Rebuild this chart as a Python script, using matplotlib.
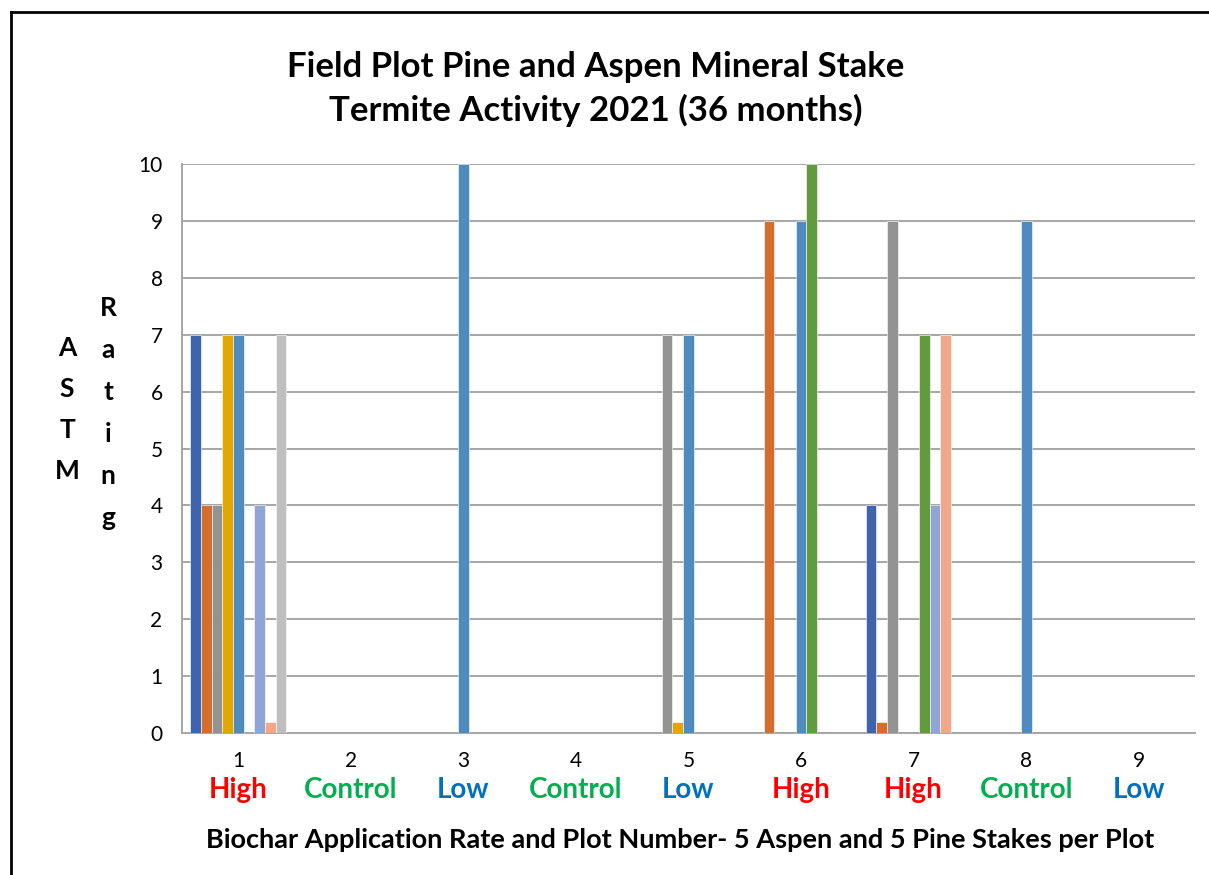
import matplotlib.pyplot as plt
from matplotlib.lines import Line2D
import numpy as np

plt.rcParams['font.family'] = ['Lato', 'DejaVu Sans']

plots = ['1', '2', '3', '4', '5', '6', '7', '8', '9']
rates = ['High', 'Control', 'Low', 'Control', 'Low', 'High', 'High', 'Control', 'Low']
rate_colors = {'High': '#FF0000', 'Control': '#00B050', 'Low': '#0070C0'}

# ASTM rating of each stake, one list per stake (plots 1..9)
stake1 = [7, 0, 0, 0, 0, 0, 4, 0, 0]
stake2 = [4, 0, 0, 0, 0, 9, 0.2, 0, 0]
stake3 = [4, 0, 0, 0, 7, 0, 9, 0, 0]
stake4 = [7, 0, 0, 0, 0.2, 0, 0, 0, 0]
stake5 = [7, 0, 10, 0, 7, 9, 0, 9, 0]
stake6 = [0, 0, 0, 0, 0, 10, 7, 0, 0]
stake7 = [4, 0, 0, 0, 0, 0, 4, 0, 0]
stake8 = [0.2, 0, 0, 0, 0, 0, 7, 0, 0]
stake9 = [7, 0, 0, 0, 0, 0, 0, 0, 0]
stakes = [stake1, stake2, stake3, stake4, stake5, stake6, stake7, stake8, stake9]

colors = ['#3E64AE', '#D46E2C', '#939393', '#E3A700', '#508BBF',
          '#629B3F', '#8FA5D6', '#F1A88A', '#BFBFBF']

W, H = 1209, 875
fig = plt.figure(figsize=(W / 100, H / 100), dpi=100)
ax = fig.add_axes([182 / W, 1 - 733 / H, (1195 - 182) / W, (733 - 164) / H])

x = np.arange(len(plots))
n = len(stakes)
width = 1 / (n + 1.55)
for i, vals in enumerate(stakes):
    offset = (i - (n - 1) / 2) * width
    ax.bar(x + offset, vals, width, color=colors[i], edgecolor='white',
           linewidth=0.4, zorder=3)

ax.set_xlim(-0.5, len(plots) - 0.5)
ax.set_ylim(0, 10)
ax.set_yticks(range(0, 11))
ax.yaxis.grid(True, color='#A6A6A6', linewidth=1.4, zorder=0)
ax.set_xticks(x, plots)
ax.tick_params(axis='both', length=0, labelsize=15, colors='black')
ax.tick_params(axis='x', pad=13)
ax.tick_params(axis='y', pad=14)
for s in ['top', 'right']:
    ax.spines[s].set_visible(False)
for s in ['left', 'bottom']:
    ax.spines[s].set_color('#A6A6A6')
    ax.spines[s].set_linewidth(1.4)

# application rate under each plot number
for xi, r in zip(x, rates):
    ax.text(xi, -1.0, r, ha='center', va='center', fontsize=20,
            fontweight='bold', color=rate_colors[r])

fig.text(596 / W, 1 - 67 / H, 'Field Plot Pine and Aspen Mineral Stake',
         ha='center', va='center', fontsize=25, fontweight='bold')
fig.text(596 / W, 1 - 110 / H, 'Termite Activity 2021 (36 months)',
         ha='center', va='center', fontsize=25, fontweight='bold')
fig.text(680 / W, 1 - 840 / H,
         'Biochar Application Rate and Plot Number- 5 Aspen and 5 Pine Stakes per Plot',
         ha='center', va='center', fontsize=19.5, fontweight='bold')

# stacked y-axis labels
for k, ch in enumerate('ASTM'):
    fig.text(67 / W, 1 - (348 + 41 * k) / H, ch, ha='center', va='center',
             fontsize=19, fontweight='bold')
for k, ch in enumerate('Rating'):
    fig.text(108 / W, 1 - (308 + 42 * k) / H, ch, ha='center', va='center',
             fontsize=19, fontweight='bold')

# chart frame
fig.add_artist(Line2D([11 / W, 1], [1 - 12 / H, 1 - 12 / H], color='black', lw=2))
fig.add_artist(Line2D([11 / W, 11 / W], [0, 1 - 12 / H], color='black', lw=2))

fig.savefig('out.png', dpi=100)
